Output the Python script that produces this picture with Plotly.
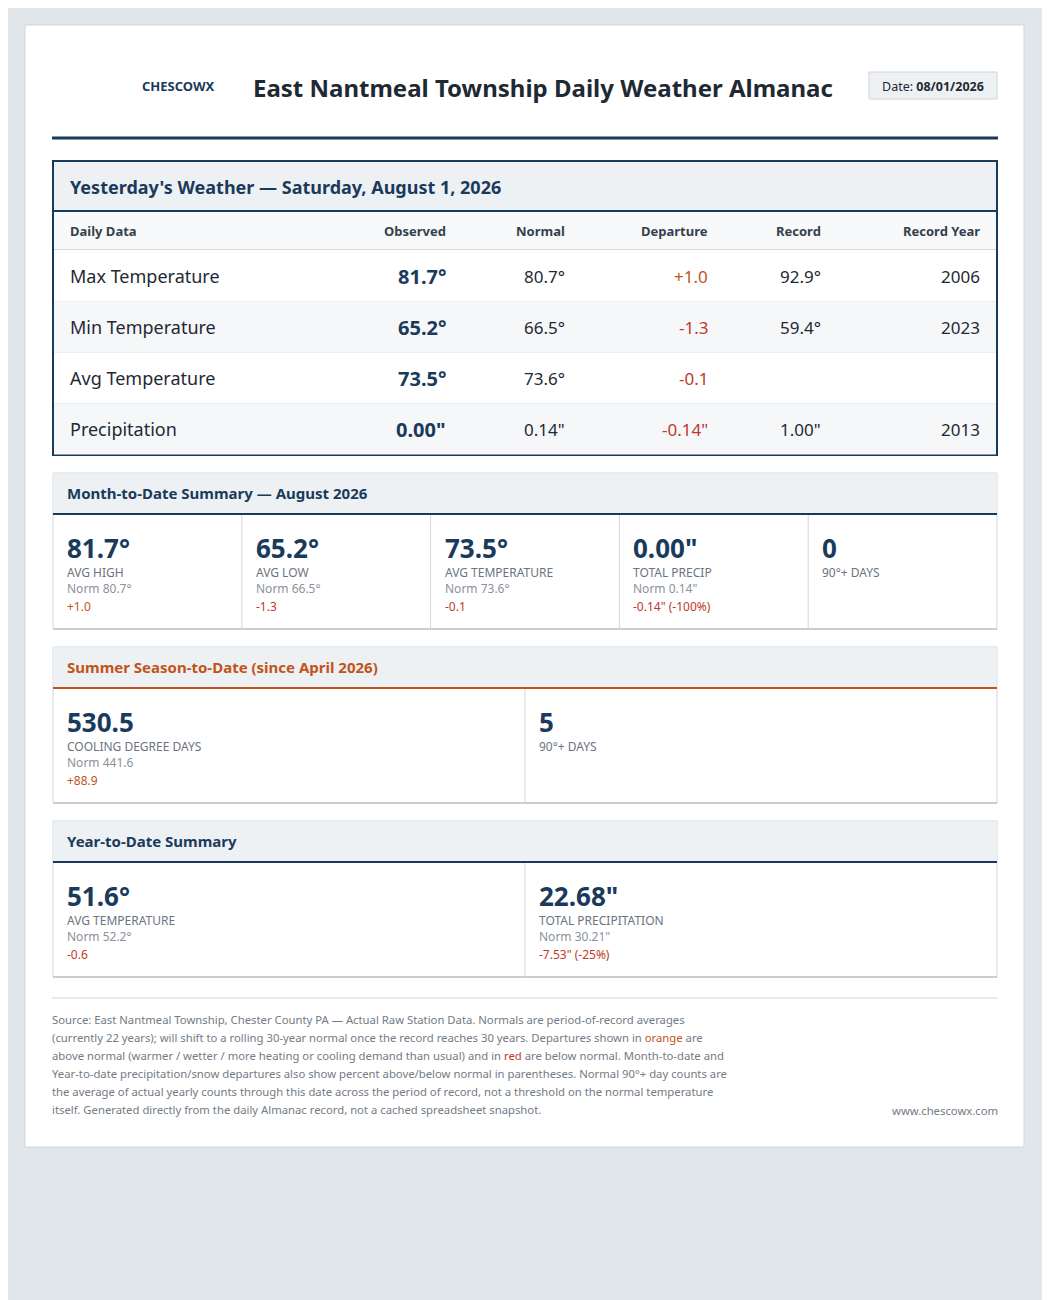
"""
Daily weather almanac card for East Nantmeal Township, drawn with Plotly
shapes and annotations on a pixel-sized canvas.
"""

import plotly.graph_objects as go

# Data

site_name = "CHESCOWX"
page_title = "East Nantmeal Township Daily Weather Almanac"
report_date = "08/01/2026"
daily_title = "Yesterday's Weather — Saturday, August 1, 2026"

daily_columns = ["Daily Data", "Observed", "Normal", "Departure", "Record", "Record Year"]
daily_labels = ["Max Temperature", "Min Temperature", "Avg Temperature", "Precipitation"]
daily_observed = ["81.7°", "65.2°", "73.5°", '0.00"']
daily_normal = ["80.7°", "66.5°", "73.6°", '0.14"']
daily_departure = ["+1.0", "-1.3", "-0.1", '-0.14"']
daily_record = ["92.9°", "59.4°", "", '1.00"']
daily_record_year = ["2006", "2023", "", "2013"]

mtd_title = "Month-to-Date Summary — August 2026"
mtd_values = ["81.7°", "65.2°", "73.5°", '0.00"', "0"]
mtd_labels = ["AVG HIGH", "AVG LOW", "AVG TEMPERATURE", "TOTAL PRECIP", "90°+ DAYS"]
mtd_norms = ["Norm 80.7°", "Norm 66.5°", "Norm 73.6°", 'Norm 0.14"', ""]
mtd_departures = ["+1.0", "-1.3", "-0.1", '-0.14" (-100%)', ""]

season_title = "Summer Season-to-Date (since April 2026)"
season_values = ["530.5", "5"]
season_labels = ["COOLING DEGREE DAYS", "90°+ DAYS"]
season_norms = ["Norm 441.6", ""]
season_departures = ["+88.9", ""]

ytd_title = "Year-to-Date Summary"
ytd_values = ["51.6°", '22.68"']
ytd_labels = ["AVG TEMPERATURE", "TOTAL PRECIPITATION"]
ytd_norms = ["Norm 52.2°", 'Norm 30.21"']
ytd_departures = ["-0.6", '-7.53" (-25%)']

footer_lines = [
    "Source: East Nantmeal Township, Chester County PA — Actual Raw Station Data. Normals are period-of-record averages",
    "(currently 22 years); will shift to a rolling 30-year normal once the record reaches 30 years. Departures shown in {orange} are",
    "above normal (warmer / wetter / more heating or cooling demand than usual) and in {red} are below normal. Month-to-date and",
    "Year-to-date precipitation/snow departures also show percent above/below normal in parentheses. Normal 90°+ day counts are",
    "the average of actual yearly counts through this date across the period of record, not a threshold on the normal temperature",
    "itself. Generated directly from the daily Almanac record, not a cached spreadsheet snapshot.",
]
footer_site = "www.chescowx.com"

# Styles

FONT = "Noto Sans"
NAVY = "#1a3a5c"
DARK = "#1f2933"
ORANGE = "#c0541a"
RED = "#c0392b"
BAND = "#eef1f4"
LINE = "#d3d8dd"
GREY = "#6b7480"
LIGHT = "#8a929b"

# the page body has an 8px margin, so the canvas starts at page pixel 8
OFFSET = 8


def dep_color(text):
    return ORANGE if text.startswith("+") else RED


fig = go.Figure()
shapes = []
notes = []


def rect(x0, y0, x1, y1, fill, line_color=None, width=0):
    shapes.append(dict(
        type="rect", x0=x0, y0=y0, x1=x1, y1=y1, xref="x", yref="y",
        fillcolor=fill, line=dict(color=line_color or fill, width=width), layer="below",
    ))


def hline(x0, x1, y, color, width):
    shapes.append(dict(
        type="line", x0=x0, x1=x1, y0=y, y1=y, xref="x", yref="y",
        line=dict(color=color, width=width), layer="below",
    ))


def vline(x, y0, y1, color, width):
    shapes.append(dict(
        type="line", x0=x, x1=x, y0=y0, y1=y1, xref="x", yref="y",
        line=dict(color=color, width=width), layer="below",
    ))


def text(x, y, s, size, color, anchor="left", bold=False):
    # annotations carry a little padding; pull the text back to the anchor
    shift = {"left": -2, "right": 2, "center": 0}[anchor]
    notes.append(dict(
        x=x, y=y, xref="x", yref="y", text=f"<b>{s}</b>" if bold else s,
        showarrow=False, xanchor=anchor, yanchor="middle", xshift=shift,
        font=dict(family=FONT, size=size, color=color),
    ))


# Page card
rect(25, 25, 1024, 1147, "white", "#d0d6db", 1)

# Header
text(215, 86, site_name, 13, NAVY, "right", bold=True)
text(543, 87, page_title, 24, DARK, "center", bold=True)
rect(869, 72, 997, 99, BAND, "#cdd4da", 1)
text(933, 86, f"Date: <b>{report_date}</b>", 12.5, DARK, "center")
hline(52, 998, 138, NAVY, 3)

# Yesterday's weather table
rect(53, 161, 997, 455, "white", NAVY, 2)
rect(54, 162, 996, 211, BAND)
text(70, 187, daily_title, 18, NAVY, bold=True)
hline(53, 997, 211, NAVY, 2)
rect(54, 212, 996, 249, "#f8f9fb")
hline(54, 996, 249.5, LINE, 1)

col_x = [70, 446, 565, 708, 821, 980]
for i, name in enumerate(daily_columns):
    text(col_x[i], 231, name, 13, "#34404c", "left" if i == 0 else "right", bold=True)

row_h = 51
for r, label in enumerate(daily_labels):
    yc = 276 + r * row_h
    if r % 2 == 1:
        rect(54, yc - 25.5, 996, yc + 25.5, "#f5f7f9")
    if r > 0:
        hline(54, 996, yc - 25.5, "#eceff2", 1)
    text(col_x[0], yc, label, 18, DARK)
    text(col_x[1], yc, daily_observed[r], 20, NAVY, "right", bold=True)
    text(col_x[2], yc, daily_normal[r], 17, DARK, "right")
    text(col_x[3], yc, daily_departure[r], 17, dep_color(daily_departure[r]), "right")
    text(col_x[4], yc, daily_record[r], 17, DARK, "right")
    text(col_x[5], yc, daily_record_year[r], 17, DARK, "right")


# Summary panels
def summary_panel(top, title, title_color, accent, values, labels, norms, deps):
    bottom = top + 156
    rect(53, top, 997, bottom, "white", LINE, 1)
    hline(53, 997, bottom, "#c9ced3", 2)
    rect(53.5, top + 0.5, 996.5, top + 40, BAND)
    text(67, top + 20, title, 15, title_color, bold=True)
    hline(53, 997, top + 41, accent, 2)
    n = len(values)
    cell_w = 944 / n
    for i in range(n):
        x0 = 53 + i * cell_w
        if i > 0:
            vline(x0, top + 42, bottom, LINE, 1)
        tx = x0 + 14
        text(tx, top + 75, values[i], 26, NAVY, bold=True)
        text(tx, top + 99, labels[i], 12, GREY)
        if norms[i]:
            text(tx, top + 115, norms[i], 12, LIGHT)
        if deps[i]:
            text(tx, top + 133, deps[i], 12, dep_color(deps[i]))


summary_panel(473, mtd_title, NAVY, NAVY, mtd_values, mtd_labels, mtd_norms, mtd_departures)
summary_panel(647, season_title, ORANGE, ORANGE, season_values, season_labels, season_norms, season_departures)
summary_panel(821, ytd_title, NAVY, NAVY, ytd_values, ytd_labels, ytd_norms, ytd_departures)

# Footer
hline(52, 998, 998, "#cfd4d9", 1)
for i, line in enumerate(footer_lines):
    s = line.format(
        orange=f"<span style='color:{ORANGE}'>orange</span>",
        red=f"<span style='color:{RED}'>red</span>",
    )
    text(52, 1019 + i * 18, s, 11.3, "#737b85")
text(998, 1110, footer_site, 11.3, "#737b85", "right")

fig.update_layout(
    width=1050 - 2 * OFFSET,
    height=1300 - OFFSET,
    margin=dict(l=0, r=0, t=0, b=0),
    paper_bgcolor="#e1e6ea",
    plot_bgcolor="#e1e6ea",
    shapes=shapes,
    annotations=notes,
    showlegend=False,
)
fig.update_xaxes(range=[OFFSET, 1050 - OFFSET], visible=False, fixedrange=True)
fig.update_yaxes(range=[1300, OFFSET], visible=False, fixedrange=True)

fig.write_html("out.html", config={"displayModeBar": False})
